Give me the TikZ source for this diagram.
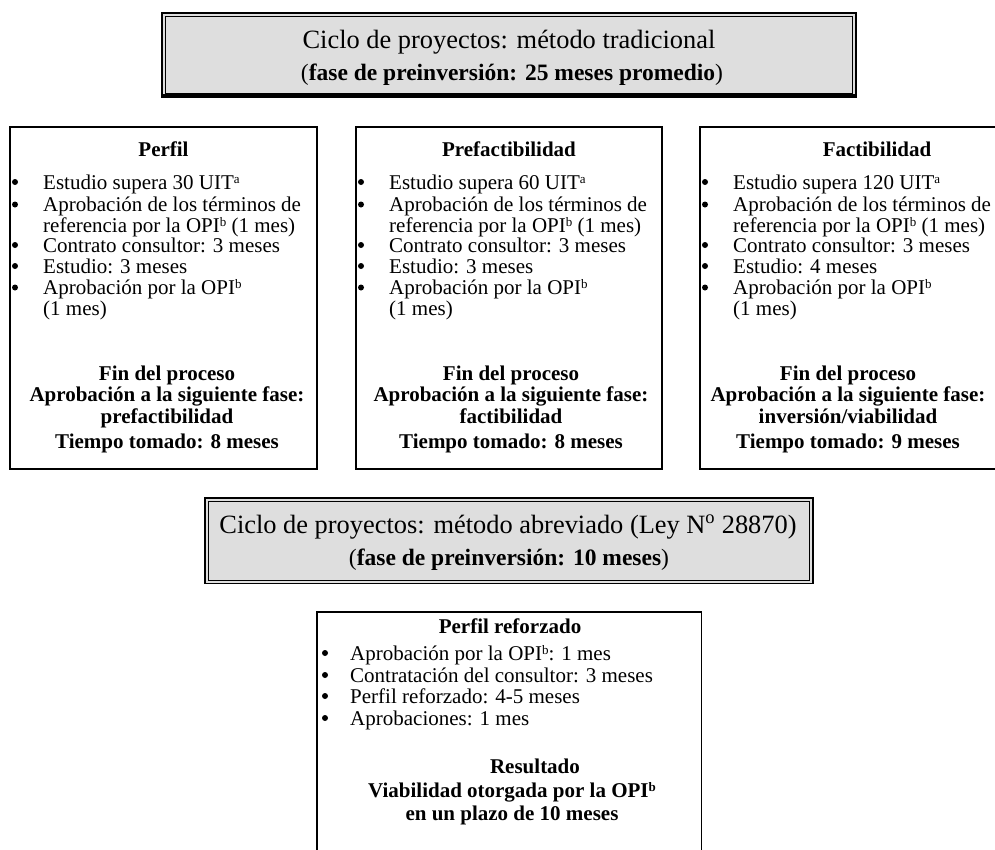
\documentclass[tikz,border=0pt]{standalone}
\usepackage{fontspec}
\setmainfont{Liberation Serif}
\usetikzlibrary{positioning}
\definecolor{headGray}{RGB}{222,222,222}
\newcommand{\myBodyFont}{\fontsize{21}{21}\selectfont}
\newcommand{\myHeadFont}{\fontsize{26.4}{30}\selectfont}
\newcommand{\mySubFont}{\fontsize{23.5}{28}\selectfont}
\newcommand{\myNote}[1]{\raisebox{0.6ex}{\fontsize{13}{13}\selectfont #1}}

\begin{document}
\begin{tikzpicture}[x=1pt,y=-1pt,
	Frame/.style={draw=black,line width=1.8pt},
	Head/.style={fill=headGray,draw=black,line width=1.8pt},
	HeadInner/.style={draw=black,line width=0.9pt},
	HeadText/.style={anchor=base,inner sep=0pt,font=\myHeadFont},
	SubText/.style={anchor=base,inner sep=0pt,font=\mySubFont},
	Title/.style={anchor=base,inner sep=0pt,font=\myBodyFont\bfseries},
	Item/.style={anchor=base west,inner sep=0pt,font=\myBodyFont},
	Dot/.style={circle,fill=black,inner sep=0pt,minimum size=6pt},
]
	\useasboundingbox (0,0) rectangle (995,849);
	\clip (0,0) rectangle (995,849);

	% traditional method
	\draw[Head] (162,13) rectangle (856,97);
	\draw[HeadInner] (165.5,16.5) rectangle (852.5,93.5);
	\draw[line width=3pt] (162,95.5) -- (856,95.5);
	\node[HeadText] (trad-l1) at (509,48) {Ciclo de proyectos: método tradicional};
	\node[SubText] (trad-l2) at (512,80) {(\textbf{fase de preinversión: 25 meses promedio})};

	\foreach \col/\xl/\xr/\xt/\xb/\ttl/\uit/\est/\nxt/\tmp in {
		perfil/10/317/163.5/167/Perfil/30/3/prefactibilidad/8,
		prefact/356/662/509/511/Prefactibilidad/60/3/factibilidad/8,
		fact/700/1007/877/848/Factibilidad/120/4/inversión\slash viabilidad/9}
	{
		\draw[Frame] (\xl,127) rectangle (\xr,469);
		\node[Title] (\col-title) at (\xt,156) {\ttl};
		% bullets
		\foreach \y in {189,211.5,252,273,294.5}
			\node[Dot] at (\xl+5,\y-7) {};
		\node[Item] (\col-i1) at (\xl+33,189) {Estudio supera \uit\ UIT\myNote{a}};
		\node[Item] (\col-i2) at (\xl+33,211.5) {Aprobación de los términos de};
		\node[Item] (\col-i2b) at (\xl+33,232) {referencia por la OPI\myNote{b} (1 mes)};
		\node[Item] (\col-i3) at (\xl+33,252) {Contrato consultor: 3 meses};
		\node[Item] (\col-i4) at (\xl+33,273) {Estudio: \est\ meses};
		\node[Item] (\col-i5) at (\xl+33,294.5) {Aprobación por la OPI\myNote{b}};
		\node[Item] (\col-i5b) at (\xl+33,315) {(1 mes)};
		% result
		\node[Title] (\col-fin) at (\xb,380) {Fin del proceso};
		\node[Title] (\col-apr) at (\xb,401.5) {Aprobación a la siguiente fase:};
		\node[Title] (\col-next) at (\xb,423) {\nxt};
		\node[Title] (\col-time) at (\xb,448) {Tiempo tomado: \tmp\ meses};
	}

	% abbreviated method
	\draw[Head] (205,498) rectangle (813,583.5);
	\draw[HeadInner] (208.5,501.5) rectangle (809.5,580);
	\node[HeadText] (abr-l1) at (508,533) {Ciclo de proyectos: método abreviado (Ley N\textsuperscript{o} 28870)};
	\node[SubText] (abr-l2) at (509,565) {(\textbf{fase de preinversión: 10 meses})};

	\draw[Frame] (317,612) rectangle (701.5,870);
	\node[Title] (ref-title) at (510,633) {Perfil reforzado};
	\foreach \y in {660,682,703,725}
		\node[Dot] at (325,\y-7) {};
	\node[Item] (ref-i1) at (350,660) {Aprobación por la OPI\myNote{b}: 1 mes};
	\node[Item] (ref-i2) at (350,682) {Contratación del consultor: 3 meses};
	\node[Item] (ref-i3) at (350,703) {Perfil reforzado: 4-5 meses};
	\node[Item] (ref-i4) at (350,725) {Aprobaciones: 1 mes};
	\node[Title] (ref-res) at (535,773) {Resultado};
	\node[Title] (ref-via) at (512,797) {Viabilidad otorgada por la OPI\myNote{b}};
	\node[Title] (ref-plazo) at (512,820) {en un plazo de 10 meses};
\end{tikzpicture}
\end{document}
